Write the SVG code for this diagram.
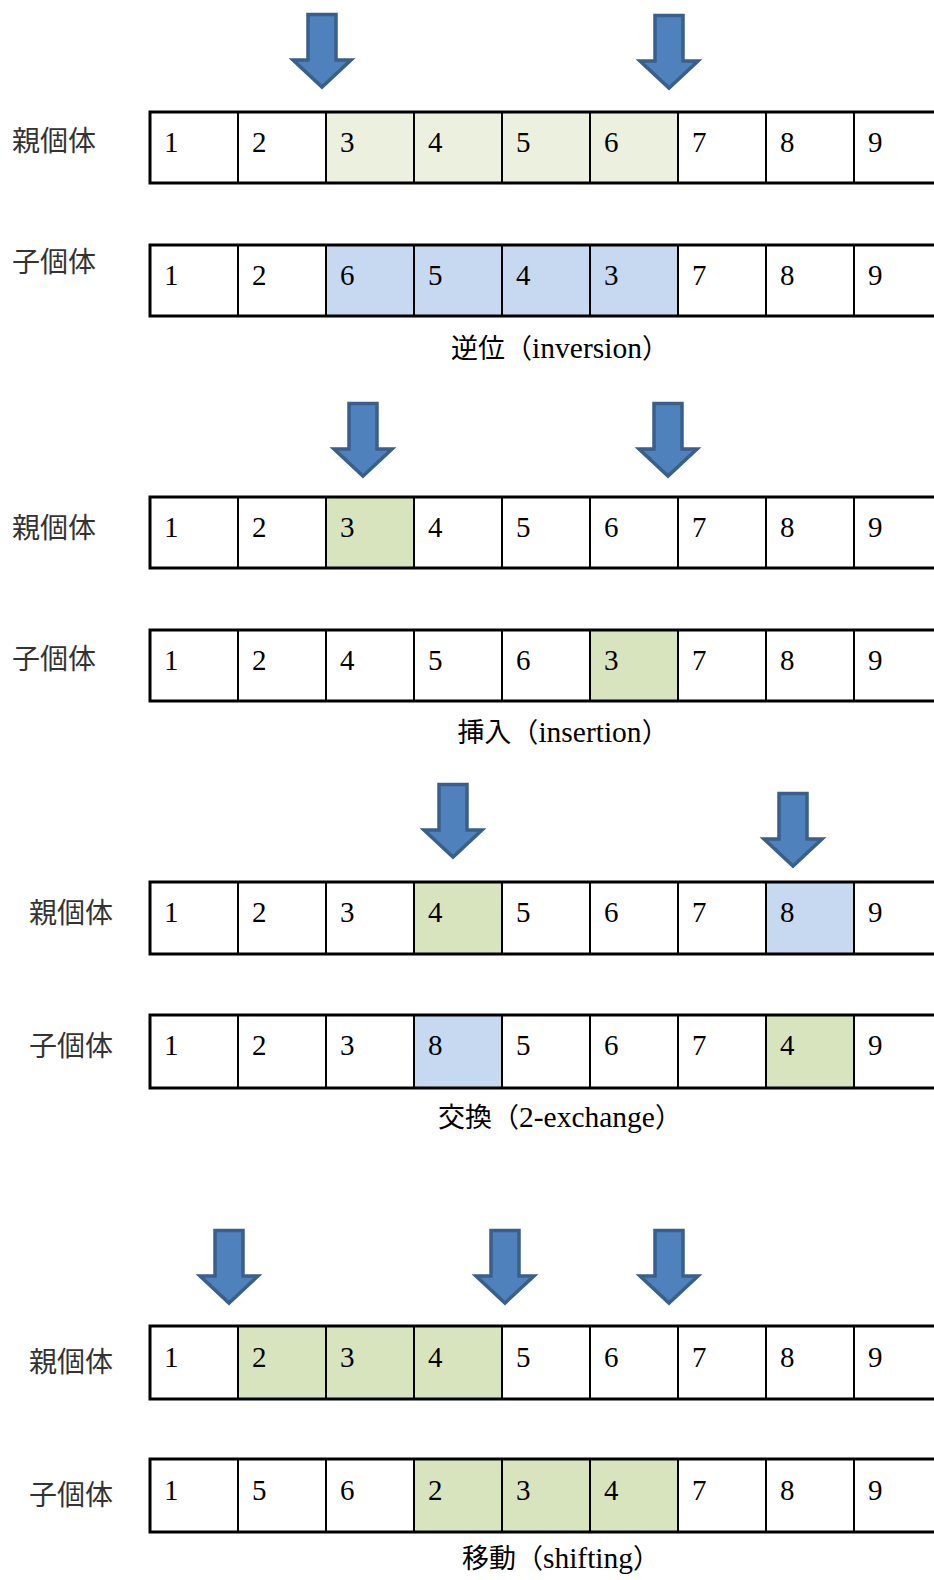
<svg xmlns="http://www.w3.org/2000/svg" xmlns:xlink="http://www.w3.org/1999/xlink" width="934" height="1580" viewBox="0 0 934 1580">
<style>
.cell{stroke:#000;stroke-width:2}
.w{fill:#fff}
.pg{fill:#EBF1DE}
.g{fill:#D7E4BD}
.b{fill:#C6D9F1}
.edge{stroke:#000;stroke-width:3}
.num{font-family:"Liberation Serif","Times New Roman",serif;font-size:29px;fill:#000}
.lab{font-family:"Noto Sans CJK JP","Noto Sans CJK SC",sans-serif;font-size:28px;fill:#333}
.cap{font-family:"Liberation Serif","Noto Sans CJK JP",serif;font-size:27px;fill:#000;text-anchor:middle}
.lat{font-size:29.5px}
.arrow{fill:#4F81BD;stroke:#3A5F8B;stroke-width:3.5;stroke-linejoin:miter}
</style>
<defs>
<path id="dn" class="arrow" d="M-14,1.5 H14 V47 H29 L0,74 L-29,47 H-14 Z"/>
</defs>
<rect width="934" height="1580" fill="#fff"/>

<!-- Section 1: inversion -->
<g id="s1-arrow1"><use xlink:href="#dn" href="#dn" transform="translate(322,13)"/></g>
<g id="s1-arrow2"><use xlink:href="#dn" href="#dn" transform="translate(669,14)"/></g>
<g id="s1-parent-label"><text class="lab" x="12" y="151">親個体</text></g>
<g id="s1-parent">
<rect class="cell w" x="150" y="112" width="88" height="71"/>
<rect class="cell w" x="238" y="112" width="88" height="71"/>
<rect class="cell pg" x="326" y="112" width="88" height="71"/>
<rect class="cell pg" x="414" y="112" width="88" height="71"/>
<rect class="cell pg" x="502" y="112" width="88" height="71"/>
<rect class="cell pg" x="590" y="112" width="88" height="71"/>
<rect class="cell w" x="678" y="112" width="88" height="71"/>
<rect class="cell w" x="766" y="112" width="88" height="71"/>
<rect class="cell w" x="854" y="112" width="100" height="71"/>
<path class="edge" d="M150,112 H934 M150,183 H934 M150,110.5 V184.5"/>
<text class="num" x="164" y="152">1</text><text class="num" x="252" y="152">2</text><text class="num" x="340" y="152">3</text><text class="num" x="428" y="152">4</text><text class="num" x="516" y="152">5</text><text class="num" x="604" y="152">6</text><text class="num" x="692" y="152">7</text><text class="num" x="780" y="152">8</text><text class="num" x="868" y="152">9</text>
</g>
<g id="s1-child-label"><text class="lab" x="12" y="272">子個体</text></g>
<g id="s1-child">
<rect class="cell w" x="150" y="245" width="88" height="71"/>
<rect class="cell w" x="238" y="245" width="88" height="71"/>
<rect class="cell b" x="326" y="245" width="88" height="71"/>
<rect class="cell b" x="414" y="245" width="88" height="71"/>
<rect class="cell b" x="502" y="245" width="88" height="71"/>
<rect class="cell b" x="590" y="245" width="88" height="71"/>
<rect class="cell w" x="678" y="245" width="88" height="71"/>
<rect class="cell w" x="766" y="245" width="88" height="71"/>
<rect class="cell w" x="854" y="245" width="100" height="71"/>
<path class="edge" d="M150,245 H934 M150,316 H934 M150,243.5 V317.5"/>
<text class="num" x="164" y="285">1</text><text class="num" x="252" y="285">2</text><text class="num" x="340" y="285">6</text><text class="num" x="428" y="285">5</text><text class="num" x="516" y="285">4</text><text class="num" x="604" y="285">3</text><text class="num" x="692" y="285">7</text><text class="num" x="780" y="285">8</text><text class="num" x="868" y="285">9</text>
</g>
<g id="s1-caption"><text class="cap" x="560" y="358">逆位（<tspan class="lat">inversion</tspan>）</text></g>

<!-- Section 2: insertion -->
<g id="s2-arrow1"><use xlink:href="#dn" href="#dn" transform="translate(363,402)"/></g>
<g id="s2-arrow2"><use xlink:href="#dn" href="#dn" transform="translate(668,402)"/></g>
<g id="s2-parent-label"><text class="lab" x="12" y="538">親個体</text></g>
<g id="s2-parent">
<rect class="cell w" x="150" y="497" width="88" height="71"/>
<rect class="cell w" x="238" y="497" width="88" height="71"/>
<rect class="cell g" x="326" y="497" width="88" height="71"/>
<rect class="cell w" x="414" y="497" width="88" height="71"/>
<rect class="cell w" x="502" y="497" width="88" height="71"/>
<rect class="cell w" x="590" y="497" width="88" height="71"/>
<rect class="cell w" x="678" y="497" width="88" height="71"/>
<rect class="cell w" x="766" y="497" width="88" height="71"/>
<rect class="cell w" x="854" y="497" width="100" height="71"/>
<path class="edge" d="M150,497 H934 M150,568 H934 M150,495.5 V569.5"/>
<text class="num" x="164" y="537">1</text><text class="num" x="252" y="537">2</text><text class="num" x="340" y="537">3</text><text class="num" x="428" y="537">4</text><text class="num" x="516" y="537">5</text><text class="num" x="604" y="537">6</text><text class="num" x="692" y="537">7</text><text class="num" x="780" y="537">8</text><text class="num" x="868" y="537">9</text>
</g>
<g id="s2-child-label"><text class="lab" x="12" y="669">子個体</text></g>
<g id="s2-child">
<rect class="cell w" x="150" y="630" width="88" height="71"/>
<rect class="cell w" x="238" y="630" width="88" height="71"/>
<rect class="cell w" x="326" y="630" width="88" height="71"/>
<rect class="cell w" x="414" y="630" width="88" height="71"/>
<rect class="cell w" x="502" y="630" width="88" height="71"/>
<rect class="cell g" x="590" y="630" width="88" height="71"/>
<rect class="cell w" x="678" y="630" width="88" height="71"/>
<rect class="cell w" x="766" y="630" width="88" height="71"/>
<rect class="cell w" x="854" y="630" width="100" height="71"/>
<path class="edge" d="M150,630 H934 M150,701 H934 M150,628.5 V702.5"/>
<text class="num" x="164" y="670">1</text><text class="num" x="252" y="670">2</text><text class="num" x="340" y="670">4</text><text class="num" x="428" y="670">5</text><text class="num" x="516" y="670">6</text><text class="num" x="604" y="670">3</text><text class="num" x="692" y="670">7</text><text class="num" x="780" y="670">8</text><text class="num" x="868" y="670">9</text>
</g>
<g id="s2-caption"><text class="cap" x="563" y="742">挿入（<tspan class="lat">insertion</tspan>）</text></g>

<!-- Section 3: 2-exchange -->
<g id="s3-arrow1"><use xlink:href="#dn" href="#dn" transform="translate(453,783)"/></g>
<g id="s3-arrow2"><use xlink:href="#dn" href="#dn" transform="translate(793,792)"/></g>
<g id="s3-parent-label"><text class="lab" x="29" y="923">親個体</text></g>
<g id="s3-parent">
<rect class="cell w" x="150" y="882" width="88" height="72"/>
<rect class="cell w" x="238" y="882" width="88" height="72"/>
<rect class="cell w" x="326" y="882" width="88" height="72"/>
<rect class="cell g" x="414" y="882" width="88" height="72"/>
<rect class="cell w" x="502" y="882" width="88" height="72"/>
<rect class="cell w" x="590" y="882" width="88" height="72"/>
<rect class="cell w" x="678" y="882" width="88" height="72"/>
<rect class="cell b" x="766" y="882" width="88" height="72"/>
<rect class="cell w" x="854" y="882" width="100" height="72"/>
<path class="edge" d="M150,882 H934 M150,954 H934 M150,880.5 V955.5"/>
<text class="num" x="164" y="922">1</text><text class="num" x="252" y="922">2</text><text class="num" x="340" y="922">3</text><text class="num" x="428" y="922">4</text><text class="num" x="516" y="922">5</text><text class="num" x="604" y="922">6</text><text class="num" x="692" y="922">7</text><text class="num" x="780" y="922">8</text><text class="num" x="868" y="922">9</text>
</g>
<g id="s3-child-label"><text class="lab" x="29" y="1056">子個体</text></g>
<g id="s3-child">
<rect class="cell w" x="150" y="1015" width="88" height="73"/>
<rect class="cell w" x="238" y="1015" width="88" height="73"/>
<rect class="cell w" x="326" y="1015" width="88" height="73"/>
<rect class="cell b" x="414" y="1015" width="88" height="73"/>
<rect class="cell w" x="502" y="1015" width="88" height="73"/>
<rect class="cell w" x="590" y="1015" width="88" height="73"/>
<rect class="cell w" x="678" y="1015" width="88" height="73"/>
<rect class="cell g" x="766" y="1015" width="88" height="73"/>
<rect class="cell w" x="854" y="1015" width="100" height="73"/>
<path class="edge" d="M150,1015 H934 M150,1088 H934 M150,1013.5 V1089.5"/>
<text class="num" x="164" y="1055">1</text><text class="num" x="252" y="1055">2</text><text class="num" x="340" y="1055">3</text><text class="num" x="428" y="1055">8</text><text class="num" x="516" y="1055">5</text><text class="num" x="604" y="1055">6</text><text class="num" x="692" y="1055">7</text><text class="num" x="780" y="1055">4</text><text class="num" x="868" y="1055">9</text>
</g>
<g id="s3-caption"><text class="cap" x="560" y="1127">交換（<tspan class="lat">2-exchange</tspan>）</text></g>

<!-- Section 4: shifting -->
<g id="s4-arrow1"><use xlink:href="#dn" href="#dn" transform="translate(229,1229)"/></g>
<g id="s4-arrow2"><use xlink:href="#dn" href="#dn" transform="translate(505,1229)"/></g>
<g id="s4-arrow3"><use xlink:href="#dn" href="#dn" transform="translate(669,1229)"/></g>
<g id="s4-parent-label"><text class="lab" x="29" y="1372">親個体</text></g>
<g id="s4-parent">
<rect class="cell w" x="150" y="1326" width="88" height="73"/>
<rect class="cell g" x="238" y="1326" width="88" height="73"/>
<rect class="cell g" x="326" y="1326" width="88" height="73"/>
<rect class="cell g" x="414" y="1326" width="88" height="73"/>
<rect class="cell w" x="502" y="1326" width="88" height="73"/>
<rect class="cell w" x="590" y="1326" width="88" height="73"/>
<rect class="cell w" x="678" y="1326" width="88" height="73"/>
<rect class="cell w" x="766" y="1326" width="88" height="73"/>
<rect class="cell w" x="854" y="1326" width="100" height="73"/>
<path class="edge" d="M150,1326 H934 M150,1399 H934 M150,1324.5 V1400.5"/>
<text class="num" x="164" y="1367">1</text><text class="num" x="252" y="1367">2</text><text class="num" x="340" y="1367">3</text><text class="num" x="428" y="1367">4</text><text class="num" x="516" y="1367">5</text><text class="num" x="604" y="1367">6</text><text class="num" x="692" y="1367">7</text><text class="num" x="780" y="1367">8</text><text class="num" x="868" y="1367">9</text>
</g>
<g id="s4-child-label"><text class="lab" x="29" y="1505">子個体</text></g>
<g id="s4-child">
<rect class="cell w" x="150" y="1459" width="88" height="73"/>
<rect class="cell w" x="238" y="1459" width="88" height="73"/>
<rect class="cell w" x="326" y="1459" width="88" height="73"/>
<rect class="cell g" x="414" y="1459" width="88" height="73"/>
<rect class="cell g" x="502" y="1459" width="88" height="73"/>
<rect class="cell g" x="590" y="1459" width="88" height="73"/>
<rect class="cell w" x="678" y="1459" width="88" height="73"/>
<rect class="cell w" x="766" y="1459" width="88" height="73"/>
<rect class="cell w" x="854" y="1459" width="100" height="73"/>
<path class="edge" d="M150,1459 H934 M150,1532 H934 M150,1457.5 V1533.5"/>
<text class="num" x="164" y="1500">1</text><text class="num" x="252" y="1500">5</text><text class="num" x="340" y="1500">6</text><text class="num" x="428" y="1500">2</text><text class="num" x="516" y="1500">3</text><text class="num" x="604" y="1500">4</text><text class="num" x="692" y="1500">7</text><text class="num" x="780" y="1500">8</text><text class="num" x="868" y="1500">9</text>
</g>
<g id="s4-caption"><text class="cap" x="561" y="1568">移動（<tspan class="lat">shifting</tspan>）</text></g>
</svg>
